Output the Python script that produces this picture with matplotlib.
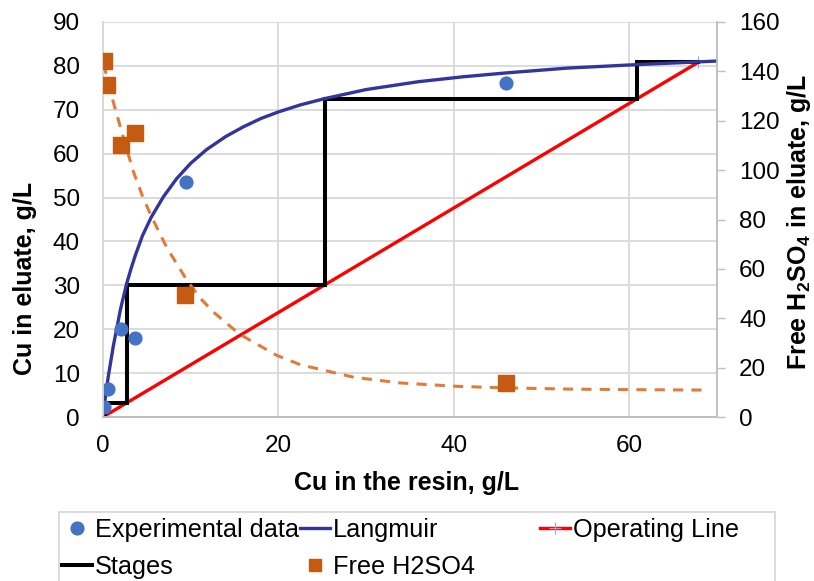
import matplotlib
matplotlib.use("Agg")
import matplotlib.pyplot as plt
from matplotlib.lines import Line2D
from matplotlib.patches import Rectangle

plt.rcParams['font.family'] = ['Liberation Sans', 'DejaVu Sans']
plt.rcParams['mathtext.fontset'] = 'custom'
plt.rcParams['mathtext.rm'] = 'Liberation Sans:bold'
plt.rcParams['mathtext.bf'] = 'Liberation Sans:bold'
plt.rcParams['mathtext.default'] = 'rm'

# ---------------- data ----------------
exp_x = [0.1, 0.55, 2.0, 3.65, 9.45, 46.0]
exp_y = [2.3, 6.3, 20.1, 17.9, 53.6, 76.1]

h2so4_x = [0.15, 0.45, 2.0, 3.65, 9.4, 46.0]
h2so4_y = [144.2, 134.5, 110.2, 115.2, 49.4, 13.6]

langmuir_x = [0.0, 0.23, 0.6, 1.18, 2.0, 2.7, 3.2, 3.65, 4.5, 5.5, 6.9, 8.4, 10.0,
              11.8, 14.0, 16.0, 18.0, 20.0, 22.5, 25.2, 30.0, 36.0, 41.0, 46.0,
              53.0, 61.0, 70.0]
langmuir_y = [0.0, 3.9, 9.2, 16.2, 24.6, 30.4, 33.8, 36.6, 41.3, 45.5, 50.2, 54.3, 57.8,
              60.9, 63.9, 66.1, 68.0, 69.5, 71.1, 72.5, 74.6, 76.4, 77.5, 78.4,
              79.5, 80.3, 81.1]

oper_x = [0.0, 67.9]
oper_y = [0.0, 80.8]

stages_x = [67.9, 60.9, 60.9, 25.3, 25.3, 2.7, 2.7, 0.2, 0.2]
stages_y = [80.8, 80.8, 72.4, 72.4, 30.1, 30.1, 3.2, 3.2, 0.2]

trend_x = [0.1, 0.6, 1.18, 2.3, 3.46, 4.5, 5.55, 7.3, 9.55, 11.0, 12.6, 15.6,
           19.8, 22.5, 28.6, 33.9, 40.5, 46.0, 53.3, 59.8, 68.8]
trend_y = [143.0, 135.0, 127.5, 113.5, 99.5, 89.5, 81.0, 68.5, 55.5, 48.5, 42.5, 33.5,
           25.0, 21.2, 16.1, 13.8, 12.4, 11.8, 11.3, 11.1, 10.9]

x_ticks = [0, 20, 40, 60]
y_ticks = [0, 10, 20, 30, 40, 50, 60, 70, 80, 90]
y2_ticks = [0, 20, 40, 60, 80, 100, 120, 140, 160]

# ---------------- styling ----------------
W, H = 814, 581
FS = 17.5
grid_c = '#D9D9D9'
axis_c = '#BFBFBF'
c_exp = '#4472C4'
c_lang = '#33349C'
c_oper = '#FF0000'
c_stage = '#000000'
c_sq = '#C55A11'
c_trend = '#E07B39'

fig = plt.figure(figsize=(W / 100, H / 100), dpi=100)
ax = fig.add_axes([103 / W, 1 - 417 / H, (716.5 - 103) / W, (417 - 22) / H])
ax2 = ax.twinx()

ax.set_xlim(0, 70)
ax.set_ylim(0, 90)
ax2.set_ylim(0, 160)

ax.set_xticks(x_ticks)
ax.set_yticks(y_ticks)
ax2.set_yticks(y2_ticks)

ax.grid(True, color=grid_c, lw=1.3)
ax.set_axisbelow(True)

for a in (ax, ax2):
    for s in a.spines.values():
        s.set_color(grid_c)
        s.set_linewidth(1.3)
    a.spines['top'].set_visible(False)
ax.spines['bottom'].set_color(axis_c)
ax2.spines['bottom'].set_color(axis_c)
ax2.spines['right'].set_color(axis_c)

ax.tick_params(axis='y', length=0, pad=16.5, labelsize=FS)
ax.tick_params(axis='x', length=0, pad=13, labelsize=FS)
ax2.tick_params(axis='y', length=5.8, width=1, color=axis_c, pad=10.5, labelsize=FS)

# ---------------- series ----------------
ax.plot(oper_x, oper_y, color=c_oper, lw=2.4, marker='+', ms=9, mec='#8FAADC',
        mew=0.8, zorder=3)
ax.plot(stages_x, stages_y, color=c_stage, lw=2.9, zorder=4, solid_joinstyle='miter')
ax.plot(langmuir_x, langmuir_y, color=c_lang, lw=2.4, zorder=5, solid_joinstyle='round')
ax.plot(exp_x, exp_y, ls='none', marker='o', ms=9.2, color=c_exp, zorder=6)

ax2.plot(trend_x, trend_y, color=c_trend, lw=2.2, dashes=(3.3, 2.7), zorder=3)
ax2.plot(h2so4_x, h2so4_y, ls='none', marker='s', ms=12, color=c_sq, zorder=4)

# ---------------- axis labels ----------------
fig.text(406.5 / W, 1 - 483 / H, 'Cu in the resin, g/L', ha='center', va='center',
         fontsize=18, fontweight='bold')
fig.text(25 / W, 1 - 278 / H, 'Cu in eluate, g/L', ha='center', va='center',
         rotation=90, fontsize=18, fontweight='bold')
fig.text(799 / W, 1 - 222 / H, 'Free H$_2$SO$_4$ in eluate, g/L', ha='center',
         va='center', rotation=90, fontsize=18, fontweight='bold')

# ---------------- legend ----------------
h_exp = Line2D([], [], ls='none', marker='o', ms=9.2, color=c_exp)
h_lang = Line2D([], [], color=c_lang, lw=2.4)
h_oper = Line2D([], [], color=c_oper, lw=2.4, marker='+', ms=9, mec='#8FAADC', mew=0.8)
h_stage = Line2D([], [], color=c_stage, lw=2.9)
h_sq = Line2D([], [], ls='none', marker='s', ms=9, color=c_sq)

LFS = 18.2
common = dict(loc='upper left', frameon=False, fontsize=LFS, borderpad=0,
              borderaxespad=0, handlelength=1.2, handletextpad=0.1,
              labelspacing=0.5)
top = 1 - 518 / H
fig.legend([h_exp, h_stage], ['Experimental data', 'Stages'],
           bbox_to_anchor=(62 / W, top), **common)
fig.legend([h_lang, h_sq], ['Langmuir', 'Free H2SO4'],
           bbox_to_anchor=(300 / W, top), **common)
fig.legend([h_oper], ['Operating Line'],
           bbox_to_anchor=(540 / W, top), **common)
fig.patches.append(Rectangle((59 / W, -0.1), (775 - 59) / W, (581 - 512) / H + 0.1,
                             transform=fig.transFigure, fill=False,
                             edgecolor=grid_c, lw=1.3))

fig.savefig('out.png', dpi=100)
